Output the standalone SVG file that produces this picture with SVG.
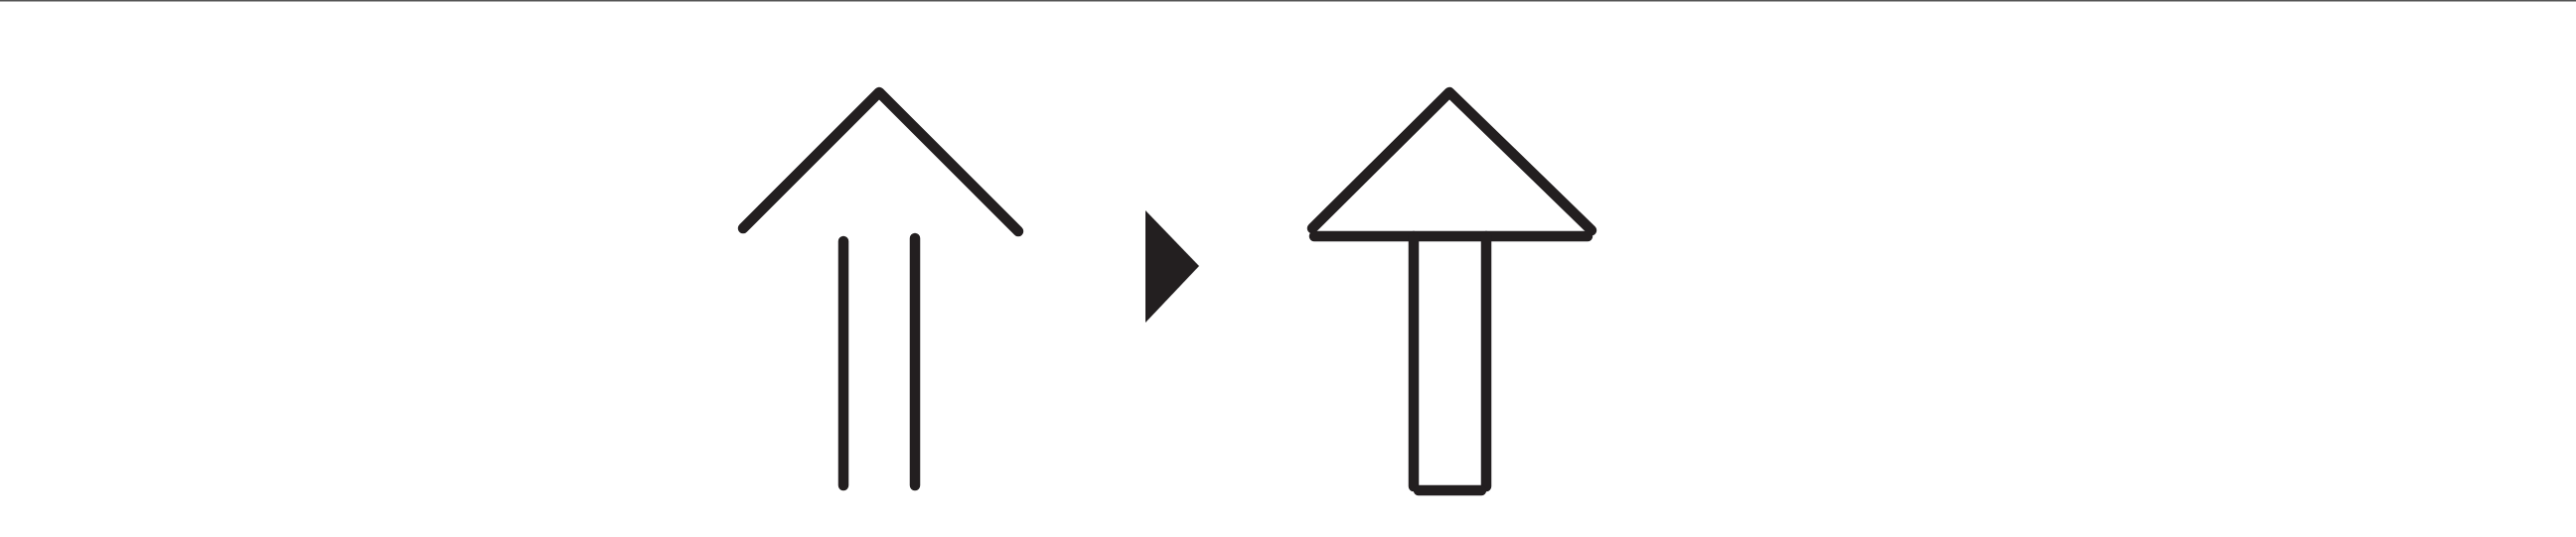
<svg xmlns="http://www.w3.org/2000/svg" width="2593" height="541" viewBox="0 0 2593 541">
<style>
.s{fill:none;stroke:#231f20;stroke-width:10.5;stroke-linecap:round;stroke-linejoin:round}
.f{fill:#231f20;stroke:none}
</style>
<rect width="2593" height="541" fill="#fff"/>
<line x1="0" y1="0.75" x2="2593" y2="0.75" stroke="#555" stroke-width="1.5"/>
<g id="open-arrow">
<polyline class="s" points="748,230 885,93 1025,233"/>
<line class="s" x1="849" y1="243" x2="849" y2="489"/>
<line class="s" x1="921" y1="240" x2="921" y2="489"/>
</g>
<g id="transform-marker">
<polygon class="f" points="1153,212 1207,268 1153,325"/>
</g>
<g id="closed-arrow">
<polyline class="s" points="1321,230 1459,93 1602,232"/>
<line class="s" x1="1323" y1="238" x2="1598" y2="238"/>
<line class="s" x1="1423" y1="238" x2="1423" y2="490"/>
<line class="s" x1="1496" y1="238" x2="1496" y2="490"/>
<line class="s" x1="1428" y1="494" x2="1491" y2="494"/>
</g>
<g id="connectors"></g>
</svg>
